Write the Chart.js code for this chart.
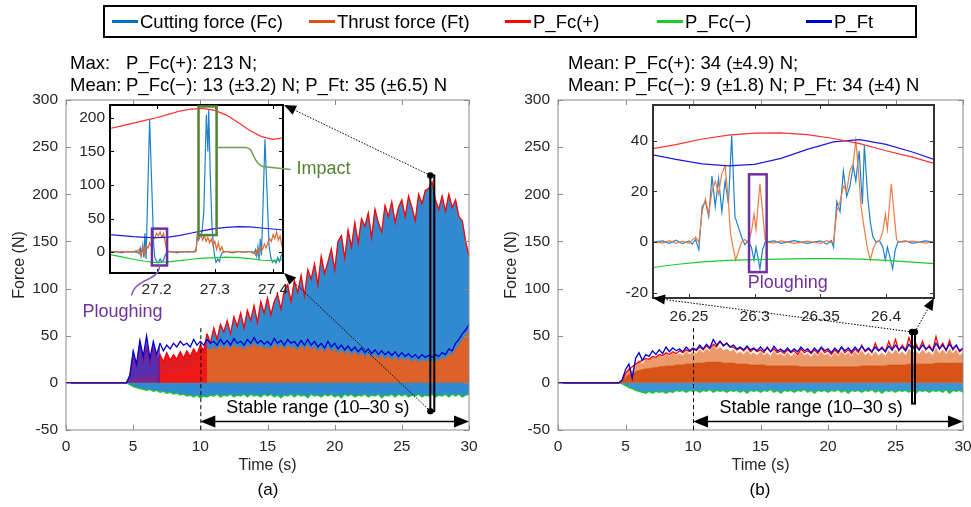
<!DOCTYPE html>
<html>
<head>
<meta charset="utf-8">
<script src="https://cdn.jsdelivr.net/npm/chart.js"></script>
<style>
body { margin: 0; background: #fff; }
#page { position: relative; width: 971px; height: 507px; overflow: hidden; font-family: "Liberation Sans", Arial, sans-serif; color: #000; }
canvas { position: absolute; }
.txt { position: absolute; white-space: nowrap; font-size: 18.5px; line-height: 22px; }
.txt b { font-weight: normal; display: inline-block; width: 56px; }
#legend { position: absolute; left: 103px; top: 5px; width: 814px; height: 33px; box-sizing: border-box; border: 2px solid #000; }
#legend span { position: absolute; top: 4px; font-size: 18.5px; line-height: 22px; white-space: nowrap; }
#legend i { display: inline-block; width: 26px; height: 3px; margin-right: 2px; vertical-align: middle; position: relative; top: -2px; }
.cap { position: absolute; font-size: 17px; transform: translateX(-50%); }
</style>
</head>
<body>
<div id="page">
  <canvas id="mainA" width="490" height="417" style="left:0;top:90px"></canvas>
  <canvas id="mainB" width="479" height="417" style="left:492px;top:90px"></canvas>
  <canvas id="insA" width="300" height="225" style="left:70px;top:100px"></canvas>
  <canvas id="insB" width="330" height="225" style="left:615px;top:100px"></canvas>
  <canvas id="over" width="971" height="507" style="left:0;top:0;pointer-events:none"></canvas>

  <div id="legend">
    <span style="left:7px"><i style="background:#0072bd"></i>Cutting force (Fc)</span>
    <span style="left:204px"><i style="background:#d95319"></i>Thrust force (Ft)</span>
    <span style="left:400px"><i style="background:#ff0000"></i>P_Fc(+)</span>
    <span style="left:552px"><i style="background:#1ec832"></i>P_Fc(−)</span>
    <span style="left:701px"><i style="background:#0000cc"></i>P_Ft</span>
  </div>

  <div class="txt" style="left:70px;top:52px"><b>Max:</b>P_Fc(+): 213 N;<br><b>Mean:</b>P_Fc(−): 13 (±3.2) N; P_Ft: 35 (±6.5) N</div>
  <div class="txt" style="left:568px;top:52px"><b>Mean:</b>P_Fc(+): 34 (±4.9) N;<br><b>Mean:</b>P_Fc(−): 9 (±1.8) N; P_Ft: 34 (±4) N</div>

  <div class="cap" style="left:268px;top:480px">(a)</div>
  <div class="cap" style="left:760px;top:480px">(b)</div>
</div>

<script>
// ---- main plots: time (s) and envelopes (N) ----
const tMain = [0, 4.5, 4.75,
  5, 5.25, 5.5, 5.75, 6, 6.25, 6.5, 6.75,
  7, 7.25, 7.5, 7.75, 8, 8.25, 8.5, 8.75,
  9, 9.25, 9.5, 9.75, 10, 10.25, 10.5, 10.75,
  11, 11.25, 11.5, 11.75, 12, 12.25, 12.5, 12.75,
  13, 13.25, 13.5, 13.75, 14, 14.25, 14.5, 14.75,
  15, 15.25, 15.5, 15.75, 16, 16.25, 16.5, 16.75,
  17, 17.25, 17.5, 17.75, 18, 18.25, 18.5, 18.75,
  19, 19.25, 19.5, 19.75, 20, 20.25, 20.5, 20.75,
  21, 21.25, 21.5, 21.75, 22, 22.25, 22.5, 22.75,
  23, 23.25, 23.5, 23.75, 24, 24.25, 24.5, 24.75,
  25, 25.25, 25.5, 25.75, 26, 26.25, 26.5, 26.75,
  27, 27.25, 27.5, 27.75, 28, 28.25, 28.5, 28.75,
  29, 29.25, 29.5, 29.75, 30];

// (a)
const pFcPlusA = [0, 0, 6,
  28, 18, 42, 22, 38, 20, 36, 24,
  30, 22, 32, 24, 30, 25, 33, 26,
  34, 28, 36, 30, 40, 34, 52, 42,
  58, 46, 62, 54, 66, 52, 70, 60,
  74, 58, 77, 66, 82, 64, 86, 74,
  90, 72, 86, 94, 78, 98, 104, 86,
  108, 96, 114, 92, 120, 110, 126, 104,
  134, 116, 128, 142, 120, 150, 156, 132,
  162, 144, 170, 148, 174, 166, 180, 154,
  184, 170, 160, 188, 176, 192, 170, 186,
  194, 176, 198, 186, 172, 200, 190, 204,
  206, 213, 194, 184, 198, 182, 200, 186,
  194, 176, 172, 150, 134];
const pFtA = [0, 0, 8,
  34, 20, 45, 28, 50, 26, 44, 30,
  42, 34, 40, 36, 42, 38, 44, 40,
  42, 38, 46, 40, 44, 40, 46, 42,
  44, 40, 46, 41, 45, 40, 47, 42,
  44, 40, 46, 42, 48, 42, 45, 41,
  44, 40, 47, 42, 45, 40, 46, 42,
  44, 39, 45, 40, 46, 40, 44, 38,
  42, 37, 44, 38, 42, 36, 40, 35,
  39, 34, 38, 33, 37, 32, 36, 31,
  35, 30, 34, 30, 33, 29, 33, 28,
  32, 28, 31, 27, 30, 26, 30, 27,
  29, 27, 30, 28, 32, 30, 36, 34,
  42, 46, 52, 56, 62];
const pFcMinusA = [0, 0, -2,
  -4, -5, -6, -7, -8, -7, -9, -8,
  -10, -9, -11, -10, -12, -11, -13, -12,
  -14, -13, -15, -13, -16, -14, -15, -13,
  -14, -12, -15, -13, -14, -12, -15, -13,
  -14, -12, -15, -12, -14, -13, -15, -12,
  -14, -12, -15, -13, -16, -13, -14, -12,
  -15, -12, -14, -13, -16, -12, -14, -13,
  -15, -12, -14, -12, -15, -13, -16, -12,
  -14, -12, -15, -13, -14, -12, -15, -13,
  -14, -12, -16, -13, -14, -12, -15, -12,
  -14, -12, -15, -13, -14, -12, -15, -13,
  -14, -12, -15, -13, -14, -12, -15, -12,
  -14, -12, -15, -13, -12];
const ftA = [0, 0, 0,
  4, 6, 5, 8, 6, 8, 7, 8,
  8, 9, 8, 10, 9, 10, 10, 12,
  14, 16, 20, 24, 30, 32, 36, 35,
  38, 35, 40, 36, 40, 35, 41, 37,
  38, 35, 40, 37, 42, 37, 40, 36,
  38, 35, 41, 37, 40, 35, 40, 37,
  38, 34, 40, 35, 40, 35, 38, 33,
  37, 32, 38, 33, 36, 31, 35, 30,
  34, 29, 33, 28, 32, 27, 31, 26,
  30, 25, 29, 25, 28, 24, 28, 23,
  27, 23, 26, 22, 25, 21, 25, 22,
  24, 22, 25, 23, 27, 25, 31, 29,
  36, 40, 46, 50, 56];

// (b)
const pFcPlusB = [0, 0, 2,
  10, 14, 17, 20, 22, 24, 26, 25,
  28, 27, 30, 29, 32, 30, 33, 31,
  34, 32, 35, 33, 36, 34, 38, 35,
  39, 36, 41, 38, 44, 40, 42, 38,
  38, 35, 37, 34, 38, 33, 36, 33,
  35, 32, 38, 33, 36, 32, 34, 31,
  35, 32, 34, 30, 36, 32, 34, 31,
  35, 31, 37, 32, 34, 30, 35, 31,
  38, 32, 35, 31, 36, 32, 40, 33,
  36, 32, 42, 34, 38, 33, 44, 35,
  46, 34, 40, 35, 48, 36, 42, 35,
  44, 35, 40, 34, 49, 36, 42, 34,
  45, 35, 40, 33, 36];
const pFtB = [0, 0, 3,
  14, 20, 5, 26, 32, 24, 30, 28,
  34, 30, 35, 31, 38, 33, 37, 34,
  36, 33, 38, 34, 37, 35, 40, 36,
  41, 37, 46, 40, 44, 39, 42, 38,
  40, 36, 38, 35, 39, 35, 37, 34,
  38, 34, 37, 33, 39, 34, 36, 33,
  37, 33, 36, 33, 38, 34, 36, 32,
  37, 33, 38, 34, 36, 32, 37, 33,
  38, 34, 37, 33, 38, 34, 39, 34,
  37, 33, 38, 34, 37, 33, 39, 35,
  40, 35, 38, 34, 41, 36, 39, 35,
  40, 36, 38, 34, 42, 36, 40, 35,
  41, 36, 40, 34, 37];
const pFcMinusB = [0, 0, -1,
  -3, -5, -6, -8, -9, -10, -11, -9,
  -11, -9, -10, -9, -11, -9, -10, -8,
  -9, -8, -10, -8, -9, -8, -10, -8,
  -9, -7, -10, -8, -9, -8, -10, -8,
  -9, -8, -10, -8, -11, -8, -9, -8,
  -10, -8, -9, -7, -10, -8, -11, -8,
  -9, -8, -10, -8, -9, -7, -10, -8,
  -11, -8, -9, -8, -10, -8, -9, -7,
  -10, -8, -11, -8, -9, -8, -10, -8,
  -9, -7, -10, -8, -11, -8, -9, -8,
  -10, -8, -9, -8, -10, -7, -11, -8,
  -9, -8, -10, -8, -9, -8, -10, -7,
  -11, -8, -9, -8, -10];
const ftB = [0, 0, 2,
  10, 16, 12, 20, 24, 20, 25, 24,
  28, 26, 30, 27, 32, 28, 32, 29,
  31, 29, 33, 30, 33, 31, 35, 32,
  36, 33, 40, 35, 38, 34, 36, 33,
  35, 31, 33, 30, 34, 30, 32, 29,
  33, 29, 32, 28, 34, 29, 31, 28,
  32, 28, 31, 28, 33, 29, 31, 27,
  32, 28, 33, 29, 31, 27, 32, 28,
  33, 29, 32, 28, 33, 29, 34, 29,
  32, 28, 33, 29, 32, 28, 34, 30,
  35, 30, 33, 29, 36, 31, 34, 30,
  35, 31, 33, 29, 37, 31, 35, 30,
  36, 31, 35, 29, 32];
const ftCoreB = [0, 0, 1,
  6, 9, 10, 12, 13, 14, 15, 15,
  16, 16, 17, 17, 18, 18, 18, 19,
  19, 19, 20, 20, 20, 21, 21, 21,
  22, 22, 22, 22, 22, 21, 21, 21,
  21, 20, 20, 20, 20, 19, 19, 19,
  19, 19, 18, 18, 18, 18, 18, 18,
  18, 18, 18, 18, 17, 17, 17, 17,
  17, 17, 17, 17, 17, 17, 17, 17,
  17, 17, 17, 17, 17, 17, 18, 18,
  18, 18, 18, 18, 18, 18, 19, 19,
  19, 19, 19, 19, 20, 20, 20, 20,
  20, 20, 20, 20, 21, 21, 21, 21,
  21, 21, 21, 21, 21];

const mainXTicks = [0, 5, 10, 15, 20, 25, 30];
const mainYTicks = [-50, 0, 50, 100, 150, 200, 250, 300];

// ---- inset (a): 27.12 - 27.417 s ----
const tEnvA = [27.12, 27.14, 27.16, 27.18, 27.2, 27.22, 27.24, 27.26, 27.28, 27.3, 27.32, 27.34, 27.36, 27.38, 27.4, 27.417];
const insA_pFcPlus = [184, 188, 192, 196, 200, 205, 210, 213, 214, 211, 204, 193, 181, 172, 168, 170];
const insA_pFt = [26, 24.5, 23, 22, 21.5, 22.5, 25, 28.5, 32, 35, 37, 38, 37.5, 36, 34.5, 33];
const insA_pFcMinus = [-3.5, -7, -10.5, -13.5, -15.5, -14.5, -12.5, -10.5, -9, -8, -7.5, -8, -9.5, -12, -12.5, -11];
const tFcA = [27.12, 27.13, 27.14, 27.15, 27.16, 27.165, 27.17, 27.172, 27.174, 27.176, 27.178, 27.18, 27.182, 27.184, 27.188, 27.192, 27.195, 27.197,
  27.2, 27.203, 27.206, 27.209, 27.212, 27.215, 27.218, 27.225, 27.235, 27.245, 27.255, 27.265, 27.268, 27.27, 27.272, 27.275, 27.278, 27.281,
  27.2855, 27.288, 27.2895, 27.292, 27.295, 27.298, 27.3, 27.302, 27.305, 27.308, 27.31, 27.313, 27.32, 27.33, 27.34, 27.35, 27.36, 27.367,
  27.37, 27.372, 27.374, 27.376, 27.378, 27.38, 27.382, 27.386, 27.39, 27.393, 27.396, 27.399, 27.402, 27.405, 27.408, 27.411, 27.414, 27.417];
const insA_fc = [0, 1, -1, 1, 0, 2, -2, 6, -4, 10, -8, 28, -10, 60, 198, 90, 10, -8,
  -14, -16, -10, -15, -12, -4, 0, 1, -1, 1, 0, 1, 5, 25, 18, 24, 30, 60,
  205, 150, 212, 120, 40, 5, -8, -15, -10, -14, -6, 0, 1, -1, 1, 0, 1, -2,
  4, -6, 8, -12, 20, -5, 50, 168, 80, 10, -8, -15, -12, -16, -8, -14, -5, 0];
const tFtA = [27.12, 27.13, 27.14, 27.15, 27.16, 27.165, 27.17, 27.173, 27.176, 27.179, 27.182, 27.185, 27.188, 27.191, 27.194, 27.197,
  27.2, 27.203, 27.206, 27.209, 27.212, 27.215, 27.218, 27.225, 27.235, 27.245, 27.255, 27.265, 27.268, 27.27, 27.273, 27.276, 27.279,
  27.282, 27.285, 27.288, 27.291, 27.294, 27.297, 27.3, 27.303, 27.306, 27.309, 27.312, 27.315, 27.32, 27.33, 27.34, 27.35, 27.36, 27.367,
  27.37, 27.373, 27.376, 27.379, 27.382, 27.385, 27.388, 27.391, 27.394, 27.397, 27.4, 27.403, 27.406, 27.409, 27.412, 27.415, 27.417];
const insA_ft = [1, 0, 1, 0, 1, -1, 4, -6, 8, -4, 10, 6, 14, 8, 18, 22,
  28, 24, 30, 22, 28, 14, 2, 0, 1, 0, 1, 0, 2, 28, 22, 26, 18,
  25, 16, 22, 14, 20, 10, 16, 4, 14, 2, 8, 0, 1, 0, 1, 0, 1, 0,
  -4, 4, -2, 8, 4, 12, 6, 14, 20, 16, 26, 20, 30, 18, 24, 10, 4];
const insA_xTicks = [27.2, 27.3, 27.4];
const insA_yTicks = [0, 50, 100, 150, 200];

// ---- inset (b): 26.2226 - 26.4365 s ----
const tEnvB = [26.2226, 26.24, 26.26, 26.28, 26.3, 26.32, 26.34, 26.36, 26.38, 26.4, 26.42, 26.4365];
const insB_pFcPlus = [36.8, 38.4, 40.6, 42.1, 42.9, 43, 42.3, 40.8, 38.8, 36, 33.5, 31];
const insB_pFt = [34.4, 32.6, 30.8, 30, 30.6, 33, 36.5, 39.5, 40.4, 38.5, 35.5, 32.6];
const insB_pFcMinus = [-10, -8.8, -7.8, -7.2, -6.9, -6.7, -6.5, -6.5, -6.7, -7.2, -7.9, -8.5];
const tFcB = [26.2226, 26.23, 26.235, 26.24, 26.245, 26.25, 26.2525, 26.255, 26.2575, 26.26, 26.2625, 26.265, 26.2675, 26.27, 26.2725, 26.275,
  26.2775, 26.28, 26.2825, 26.285, 26.2875, 26.29, 26.2925, 26.295, 26.2975, 26.2995, 26.301, 26.3025, 26.304, 26.306, 26.308, 26.315,
  26.32, 26.33, 26.34, 26.35, 26.355, 26.3585, 26.36, 26.3625, 26.365, 26.3675, 26.37, 26.3725, 26.375, 26.377, 26.3795, 26.382, 26.3835,
  26.386, 26.388, 26.39, 26.3925, 26.395, 26.3975, 26.3995, 26.401, 26.403, 26.405, 26.407, 26.409, 26.415, 26.42, 26.43, 26.4365];
const insB_fc = [0, 0.5, -0.5, 0.8, -0.6, 0.5, -0.8, 1, -3, 14, 16, 10, 26, 14, 25, 12,
  24, 15, 42, 10, 6, 2, -1, 0.5, -2, -7, -2, -6, -10.5, -3, 0, 0.5,
  -0.5, 0.6, -0.5, 0.5, -0.8, 0.6, -2, 16, 12, 28, 18, 22, 30, 24, 36, 15, 38,
  18, 8, 2, 0, 0.6, -2, -7, -2, -6, -10.5, -3, 0, 0.5, -0.5, 0.5, 0];
const tFtB = [26.2226, 26.23, 26.235, 26.24, 26.245, 26.25, 26.2525, 26.255, 26.2575, 26.26, 26.2625, 26.265, 26.2675, 26.27, 26.2725, 26.275,
  26.2775, 26.28, 26.2815, 26.2835, 26.2855, 26.2875, 26.29, 26.2925, 26.295, 26.2975, 26.2995, 26.301, 26.3025, 26.304, 26.306, 26.308,
  26.31, 26.315, 26.32, 26.33, 26.34, 26.35, 26.355, 26.3585, 26.36, 26.3625, 26.365, 26.3675, 26.37, 26.3725, 26.375, 26.377, 26.379,
  26.381, 26.3835, 26.386, 26.388, 26.39, 26.3925, 26.395, 26.3975, 26.3995, 26.401, 26.4025, 26.404, 26.406, 26.408, 26.41, 26.42, 26.43, 26.4365];
const insB_ft = [0.3, -0.4, 0.6, -0.5, 0.4, -0.5, 0.8, 2, 0, 12, 17, 11, 20, 24, 19, 27,
  30, 16, 4, -2, -7, -4, 0, 1, 0, 4, 11, 5, 14, 23, 12, 1,
  0, -0.4, 0.5, -0.5, 0.4, -0.5, 0.6, -0.3, 0, 12, 16, 22, 20, 28, 31, 40, 28,
  14, 5, -3, -7, -3, 0, 0.5, 4, 11, 5, 14, 23, 12, 1, 0, 0.4, -0.4, 0];
const insB_xTicks = [26.25, 26.3, 26.35, 26.4];
const insB_yTicks = [-20, 0, 20, 40];

// ---- colours ----
const C_RED = '#ff0000', C_GREEN = '#1ec832', C_BLUE = '#0000cc';
const FONT = '"Liberation Sans", Arial, sans-serif';
Chart.defaults.font.family = FONT;
Chart.defaults.color = '#262626';

const xy = (ts, vs) => ts.map((t, i) => ({ x: t, y: vs[i] }));
const clear = 'rgba(0,0,0,0)';

function line(ctx, x0, y0, x1, y1) { ctx.beginPath(); ctx.moveTo(x0, y0); ctx.lineTo(x1, y1); ctx.stroke(); }
function P(chart, x, y) { return [chart.scales.x.getPixelForValue(x), chart.scales.y.getPixelForValue(y)]; }

// fixed axis sizes, no extra label overhang padding
function fixX(h) { return s => { s.height = h; s.paddingLeft = 0; s.paddingRight = 0; }; }
function fixY(w) { return s => { s.width = w; s.paddingTop = 0; s.paddingBottom = 0; }; }

// MATLAB style box with inward ticks on all sides
function boxPlugin(color, width, len, white) {
  return {
    id: 'box',
    beforeDatasetsDraw(chart) {
      if (!white) return;
      const a = chart.chartArea, ctx = chart.ctx;
      ctx.save(); ctx.fillStyle = '#fff'; ctx.fillRect(a.left, a.top, a.right - a.left, a.bottom - a.top); ctx.restore();
    },
    afterDatasetsDraw(chart) {
      const { ctx, chartArea: a, scales: { x, y } } = chart;
      ctx.save();
      ctx.strokeStyle = color;
      ctx.lineWidth = width;
      ctx.strokeRect(a.left, a.top, a.right - a.left, a.bottom - a.top);
      ctx.lineWidth = 1;
      x.ticks.forEach(t => {
        const p = Math.round(x.getPixelForValue(t.value)) + 0.5;
        line(ctx, p, a.bottom, p, a.bottom - len);
        line(ctx, p, a.top, p, a.top + len);
      });
      y.ticks.forEach(t => {
        const p = Math.round(y.getPixelForValue(t.value)) + 0.5;
        line(ctx, a.left, p, a.left + len, p);
        line(ctx, a.right, p, a.right - len, p);
      });
      ctx.restore();
    }
  };
}

function stableRange(chart) {
  const ctx = chart.ctx;
  const [x0, yTop] = P(chart, 10, 58);
  const yBot = chart.chartArea.bottom;
  ctx.save();
  ctx.strokeStyle = '#000';
  ctx.lineWidth = 1;
  ctx.setLineDash([4, 3]);
  line(ctx, x0 + 0.5, yTop, x0 + 0.5, yBot);
  ctx.setLineDash([]);
  const [, ya] = P(chart, 10, -41);
  const [x1] = P(chart, 30, -41);
  ctx.lineWidth = 1.5;
  line(ctx, x0 + 12, ya, x1 - 12, ya);
  ctx.fillStyle = '#000';
  ctx.beginPath(); ctx.moveTo(x0, ya); ctx.lineTo(x0 + 15, ya - 6); ctx.lineTo(x0 + 15, ya + 6); ctx.closePath(); ctx.fill();
  ctx.beginPath(); ctx.moveTo(x1, ya); ctx.lineTo(x1 - 15, ya - 6); ctx.lineTo(x1 - 15, ya + 6); ctx.closePath(); ctx.fill();
  const [tx, ty] = P(chart, 18.75, -26.5);
  ctx.font = '18px ' + FONT;
  ctx.textAlign = 'center';
  ctx.textBaseline = 'middle';
  ctx.fillText('Stable range (10–30 s)', tx, ty);
  ctx.restore();
}

function zoomRect(chart, x0, x1, y0, y1, dots) {
  const ctx = chart.ctx;
  const [a, b] = P(chart, x0, y1);
  const [c, d] = P(chart, x1, y0);
  ctx.save();
  ctx.strokeStyle = '#000';
  ctx.lineWidth = 2;
  ctx.strokeRect(a, b, Math.max(c - a, 3), d - b);
  ctx.fillStyle = '#000';
  dots.forEach(([dx, dy]) => {
    const [px, py] = P(chart, dx, dy);
    ctx.beginPath(); ctx.arc(px, py, 3.2, 0, Math.PI * 2); ctx.fill();
  });
  ctx.restore();
}

function mainOptions(padRight) {
  return {
    responsive: false,
    animation: false,
    devicePixelRatio: 1,
    layout: { padding: { left: 10, right: padRight, top: 10, bottom: 29 } },
    plugins: { legend: { display: false }, tooltip: { enabled: false } },
    elements: { point: { radius: 0 }, line: { tension: 0 } },
    scales: {
      x: {
        type: 'linear', min: 0, max: 30,
        afterBuildTicks: s => { s.ticks = mainXTicks.map(v => ({ value: v })); },
        afterFit: fixX(48),
        grid: { display: false, drawTicks: false },
        border: { display: false },
        ticks: { padding: 7, font: { size: 15.5 }, color: '#262626' },
        title: { display: true, text: 'Time (s)', font: { size: 16 }, color: '#262626', padding: { top: 0, bottom: 3 } }
      },
      y: {
        min: -50, max: 300,
        afterBuildTicks: s => { s.ticks = mainYTicks.map(v => ({ value: v })); },
        afterFit: fixY(56),
        grid: { display: false, drawTicks: false },
        border: { display: false },
        ticks: { padding: 8, font: { size: 15.5 }, color: '#262626' },
        title: { display: true, text: 'Force (N)', font: { size: 16 }, color: '#262626', padding: { top: 0, bottom: 0 } }
      }
    }
  };
}

function env(label, color, data, order, extra) {
  return Object.assign({ label, data, borderColor: color, borderWidth: 1.3, pointRadius: 0, fill: false, order }, extra || {});
}
function band(label, color, data, order, fill, extra) {
  return Object.assign({ label, data, borderColor: color, backgroundColor: color, borderWidth: 0.6, pointRadius: 0, fill, order }, extra || {});
}

// ---- chart (a) ----
const chartA = new Chart(document.getElementById('mainA'), {
  type: 'line',
  data: {
    datasets: [
      env('P_Fc(+)', C_RED, xy(tMain, pFcPlusA), 2, {
        fill: 'origin', backgroundColor: clear,
        segment: { backgroundColor: c => (c.p0.parsed.x >= 6.75 && c.p1.parsed.x <= 10.5) ? 'rgba(240,20,20,0.92)' : clear }
      }),
      env('P_Fc(−)', C_GREEN, xy(tMain, pFcMinusA), 3),
      env('P_Ft', C_BLUE, xy(tMain, pFtA), 1, {
        fill: 'origin', backgroundColor: clear,
        segment: { backgroundColor: c => (c.p1.parsed.x <= 7) ? 'rgba(95,25,165,0.8)' : clear }
      }),
      band('Thrust force (Ft)', '#dc6229', xy(tMain, ftA), 4, 'origin'),
      band('Cutting force (Fc)', '#3189cf', xy(tMain, pFcPlusA), 5, 1)
    ]
  },
  options: mainOptions(21),
  plugins: [boxPlugin('#8a8a8a', 1, 5, false), {
    id: 'notesA',
    afterDatasetsDraw(chart) {
      stableRange(chart);
      zoomRect(chart, 27.12, 27.417, -30, 220, [[27.12, 220], [27.12, -30]]);
    }
  }]
});

// ---- chart (b) ----
const chartB = new Chart(document.getElementById('mainB'), {
  type: 'line',
  data: {
    datasets: [
      env('P_Fc(+)', C_RED, xy(tMain, pFcPlusB), 2),
      env('P_Fc(−)', C_GREEN, xy(tMain, pFcMinusB), 3),
      env('P_Ft', C_BLUE, xy(tMain, pFtB), 1),
      band('Thrust force (Ft)', '#eb9a6c', xy(tMain, ftB), 5, 'origin'),
      band('Thrust force (Ft) core', '#d85316', xy(tMain, ftCoreB), 4, 'origin'),
      band('Cutting force (Fc)', '#3a94d6', xy(tMain, ftCoreB), 6, 1)
    ]
  },
  options: mainOptions(8),
  plugins: [boxPlugin('#8a8a8a', 1, 5, false), {
    id: 'notesB',
    afterDatasetsDraw(chart) {
      stableRange(chart);
      zoomRect(chart, 26.2226, 26.4365, -22, 54, [[26.2226, 54], [26.4365, 54]]);
    }
  }]
});

function insetOptions(xr, yr, xt, yt, pad, yw, xh, xpad) {
  return {
    responsive: false,
    animation: false,
    devicePixelRatio: 1,
    layout: { padding: pad },
    plugins: { legend: { display: false }, tooltip: { enabled: false } },
    elements: { point: { radius: 0 }, line: { tension: 0 } },
    scales: {
      x: {
        type: 'linear', min: xr[0], max: xr[1],
        afterBuildTicks: s => { s.ticks = xt.map(v => ({ value: v })); },
        afterFit: fixX(xh),
        grid: { display: false, drawTicks: false },
        border: { display: false },
        ticks: { padding: xpad, font: { size: 15.5 }, color: '#262626', callback: v => String(+v.toFixed(3)) }
      },
      y: {
        min: yr[0], max: yr[1],
        afterBuildTicks: s => { s.ticks = yt.map(v => ({ value: v })); },
        afterFit: fixY(yw),
        grid: { display: false, drawTicks: false },
        border: { display: false },
        ticks: { padding: 5, font: { size: 15.5 }, color: '#262626' }
      }
    }
  };
}

function sig(label, color, data, order) {
  return { label, data, borderColor: color, borderWidth: 1.2, pointRadius: 0, fill: false, order };
}

function boxAt(chart, x0, x1, y0, y1, color) {
  const ctx = chart.ctx;
  const [a, b] = P(chart, x0, y1);
  const [c, d] = P(chart, x1, y0);
  ctx.save(); ctx.strokeStyle = color; ctx.lineWidth = 2.5; ctx.strokeRect(a, b, c - a, d - b); ctx.restore();
  return { left: a, top: b, right: c, bottom: d };
}

// ---- inset (a) ----
const insetA = new Chart(document.getElementById('insA'), {
  type: 'line',
  data: {
    datasets: [
      sig('P_Fc(+)', '#ff3030', xy(tEnvA, insA_pFcPlus), 1),
      sig('P_Ft', '#1a1ae0', xy(tEnvA, insA_pFt), 2),
      sig('P_Fc(−)', C_GREEN, xy(tEnvA, insA_pFcMinus), 3),
      sig('Thrust force (Ft)', '#e2692e', xy(tFtA, insA_ft), 4),
      sig('Cutting force (Fc)', '#1f82c8', xy(tFcA, insA_fc), 5)
    ]
  },
  options: insetOptions([27.12, 27.417], [-31, 219], insA_xTicks, insA_yTicks, { left: 0, right: 87, top: 5, bottom: 27 }, 40, 25, 7),
  plugins: [boxPlugin('#000', 2, 4, true), {
    id: 'notesIA',
    afterDatasetsDraw(chart) {
      const ctx = chart.ctx;
      const g = boxAt(chart, 27.272, 27.303, 25.4, 216.9, '#548235');
      const p = boxAt(chart, 27.192, 27.218, -19.8, 35, '#7030a0');
      ctx.save();
      // Impact leader
      const by = g.top + 41;
      ctx.strokeStyle = '#6f9d55';
      ctx.lineWidth = 1.5;
      ctx.beginPath();
      ctx.moveTo(g.right, by);
      ctx.lineTo(g.right + 29, by);
      ctx.bezierCurveTo(g.right + 38, by, g.right + 35, by + 15, g.right + 46, by + 19);
      ctx.lineTo(g.right + 74, by + 22);
      ctx.stroke();
      ctx.font = '18px ' + FONT;
      ctx.fillStyle = '#548235';
      ctx.textBaseline = 'middle';
      ctx.fillText('Impact', g.right + 80, by + 22);
      // Ploughing leader
      const cx = (p.left + p.right) / 2;
      ctx.strokeStyle = '#8a5cc0';
      ctx.beginPath();
      ctx.moveTo(cx, p.bottom);
      ctx.bezierCurveTo(cx, p.bottom + 16, cx - 24, p.bottom + 12, cx - 28, p.bottom + 30);
      ctx.stroke();
      ctx.fillStyle = '#7030a0';
      ctx.textAlign = 'center';
      ctx.fillText('Ploughing', cx - 37, p.bottom + 47);
      ctx.restore();
    }
  }]
});

// ---- inset (b) ----
const insetB = new Chart(document.getElementById('insB'), {
  type: 'line',
  data: {
    datasets: [
      sig('P_Fc(+)', '#ff3030', xy(tEnvB, insB_pFcPlus), 1),
      sig('P_Ft', '#1a1ae0', xy(tEnvB, insB_pFt), 2),
      sig('P_Fc(−)', C_GREEN, xy(tEnvB, insB_pFcMinus), 3),
      sig('Thrust force (Ft)', '#ee7b45', xy(tFtB, insB_ft), 4),
      sig('Cutting force (Fc)', '#1f82c8', xy(tFcB, insB_fc), 5)
    ]
  },
  options: insetOptions([26.2226, 26.4365], [-22, 54], insB_xTicks, insB_yTicks, { left: 0, right: 11, top: 5, bottom: 0 }, 38, 27, 9),
  plugins: [boxPlugin('#333', 2, 4, true), {
    id: 'notesIB',
    afterDatasetsDraw(chart) {
      const ctx = chart.ctx;
      const p = boxAt(chart, 26.2957, 26.3091, -11.8, 26.7, '#7030a0');
      ctx.save();
      ctx.font = '18px ' + FONT;
      ctx.fillStyle = '#7030a0';
      ctx.textAlign = 'center';
      ctx.textBaseline = 'middle';
      ctx.fillText('Ploughing', (p.left + p.right) / 2 + 30, p.bottom + 11);
      ctx.restore();
    }
  }]
});

// ---- dotted connectors from zoom rectangles to insets ----
function offs(id) { const c = document.getElementById(id); return [c.offsetLeft, c.offsetTop]; }
function connector(ctx, x0, y0, x1, y1) {
  const ang = Math.atan2(y1 - y0, x1 - x0);
  const L = 12, W = 5;
  const bx = x1 - L * Math.cos(ang), by = y1 - L * Math.sin(ang);
  ctx.save();
  ctx.strokeStyle = '#000';
  ctx.lineWidth = 1;
  ctx.setLineDash([1.5, 1.5]);
  line(ctx, x0, y0, bx, by);
  ctx.setLineDash([]);
  ctx.fillStyle = '#000';
  ctx.beginPath();
  ctx.moveTo(x1, y1);
  ctx.lineTo(bx + W * Math.sin(ang), by - W * Math.cos(ang));
  ctx.lineTo(bx - W * Math.sin(ang), by + W * Math.cos(ang));
  ctx.closePath();
  ctx.fill();
  ctx.restore();
}
const octx = document.getElementById('over').getContext('2d');
(function () {
  const [ax, ay] = offs('mainA'), [bx, by] = offs('mainB');
  const [iax, iay] = offs('insA'), [ibx, iby] = offs('insB');
  const A = insetA.chartArea, B = insetB.chartArea;
  let p = P(chartA, 27.12, 220);
  connector(octx, p[0] + ax, p[1] + ay, A.right + iax + 1, A.top + iay);
  p = P(chartA, 27.12, -30);
  connector(octx, p[0] + ax, p[1] + ay, A.right + iax + 1, A.bottom + iay);
  p = P(chartB, 26.2226, 54);
  connector(octx, p[0] + bx, p[1] + by, B.left + ibx, B.bottom + iby);
  p = P(chartB, 26.4365, 54);
  connector(octx, p[0] + bx, p[1] + by, B.right + ibx, B.bottom + iby);
})();
</script>
</body>
</html>
